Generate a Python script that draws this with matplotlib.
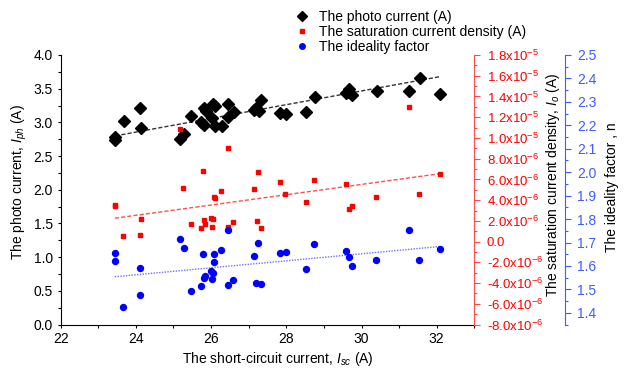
import numpy as np
import matplotlib
matplotlib.use('Agg')
import matplotlib.pyplot as plt
from matplotlib.lines import Line2D
from matplotlib.ticker import MultipleLocator, FixedLocator, FuncFormatter

plt.rcParams['font.family'] = ['Liberation Sans', 'DejaVu Sans']
plt.rcParams['mathtext.fontset'] = 'custom'
plt.rcParams['mathtext.rm'] = 'Liberation Sans'
plt.rcParams['mathtext.it'] = 'Liberation Sans:italic'

# photo current I_ph (A) vs short-circuit current I_sc (A)
isc_ph = [23.45, 23.45, 23.68, 24.12, 24.14, 25.18, 25.28, 25.47, 25.74, 25.80,
          25.81, 25.86, 26.05, 26.10, 26.03, 26.10, 26.30, 26.46, 26.46, 26.61,
          27.13, 27.20, 27.27, 27.33, 27.84, 27.99, 28.53, 28.75, 29.60, 29.68,
          29.65, 29.76, 30.40, 31.26, 31.55, 32.10]
iph = [2.74, 2.78, 3.02, 3.22, 2.91, 2.76, 2.83, 3.10, 3.01, 2.96,
       3.21, 3.17, 3.27, 3.25, 3.06, 2.94, 2.94, 3.28, 3.08, 3.16,
       3.18, 3.22, 3.17, 3.33, 3.14, 3.13, 3.16, 3.38, 3.43, 3.49,
       3.45, 3.40, 3.46, 3.47, 3.66, 3.42]
iph_fit_x = [23.45, 32.10]
iph_fit_y = [2.80, 3.68]

# saturation current density I_o, in units of 1e-6 A
isc_io = [23.44, 23.44, 23.67, 24.11, 24.13, 25.16, 25.26, 25.46, 25.73, 25.78,
          25.81, 25.85, 26.00, 26.03, 26.06, 26.09, 26.10, 26.27, 26.44, 26.45,
          26.59, 27.13, 27.21, 27.26, 27.32, 27.83, 27.97, 28.52, 28.74, 29.58,
          29.67, 29.75, 30.39, 31.25, 31.54, 32.08]
io_e6 = [3.55, 3.39, 0.52, 0.65, 2.17, 10.87, 5.22, 1.68, 1.33, 6.77,
         2.07, 1.71, 2.32, 1.42, 2.23, 4.32, 4.20, 4.90, 9.03, 1.42,
         1.88, 5.10, 1.97, 6.72, 1.30, 5.71, 4.58, 3.81, 5.97, 5.55,
         3.19, 3.48, 4.35, 12.95, 4.58, 6.52]
io_fit_x = [23.44, 32.08]
io_fit_e6 = [2.26, 6.55]

# ideality factor n
isc_n = [23.44, 23.45, 23.67, 24.11, 24.12, 25.16, 25.27, 25.46, 25.73, 25.78,
         25.81, 25.85, 26.00, 26.03, 26.06, 26.09, 26.09, 26.27, 26.44, 26.45,
         26.59, 27.13, 27.20, 27.26, 27.32, 27.83, 27.98, 28.52, 28.73, 29.58,
         29.68, 29.75, 30.39, 31.25, 31.54, 32.08]
n_ideal = [1.657, 1.623, 1.425, 1.475, 1.593, 1.714, 1.678, 1.493, 1.513, 1.650,
           1.550, 1.556, 1.579, 1.546, 1.569, 1.650, 1.616, 1.668, 1.754, 1.519,
           1.539, 1.642, 1.529, 1.698, 1.523, 1.654, 1.660, 1.589, 1.695, 1.664,
           1.640, 1.599, 1.624, 1.753, 1.626, 1.673]
n_fit_x = [23.44, 32.08]
n_fit_y = [1.554, 1.683]

red_ticks_e6 = [-8, -6, -4, -2, 0, 2, 4, 6, 8, 10, 12, 14, 16, 18]
blue_ticks = [1.4, 1.5, 1.6, 1.7, 1.8, 1.9, 2.0, 2.1, 2.2, 2.3, 2.4, 2.5]

RED = '#ff0000'
RED_AX = '#ff4a4a'
BLUE = '#0000ff'
BLUE_AX = '#3f5cff'
fs = 10

fig = plt.figure(figsize=(6.25, 3.71), dpi=100)
ax = fig.add_axes([0.0971, 0.1251, 0.6618, 0.7267])
ax2 = ax.twinx()
ax3 = ax.twinx()

# linear trend lines and points
ax.plot(iph_fit_x, iph_fit_y, color='#333333', lw=1, ls=(0, (3, 1.5)), zorder=2)
ax.plot(isc_ph, iph, ls='none', marker='D', ms=6.5, color='black', zorder=3)

ax2.plot(io_fit_x, np.array(io_fit_e6) * 1e-6, color='#ff5050', lw=1, ls=(0, (3, 1.5)), zorder=2)
ax2.plot(isc_io, np.array(io_e6) * 1e-6, ls='none', marker='s', ms=3.2, color=RED, zorder=3)

ax3.plot(n_fit_x, n_fit_y, color='#6f6fff', lw=1, ls=(0, (1, 1)), zorder=2)
ax3.plot(isc_n, n_ideal, ls='none', marker='o', ms=4.3, color=BLUE, zorder=3)

# main axes
ax.set_xlim(22, 33)
ax.set_ylim(0, 4.0)
ax.xaxis.set_major_locator(FixedLocator([22, 24, 26, 28, 30, 32]))
ax.xaxis.set_minor_locator(MultipleLocator(1))
ax.yaxis.set_major_locator(MultipleLocator(0.5))
ax.yaxis.set_minor_locator(MultipleLocator(0.25))
ax.yaxis.set_major_formatter(FuncFormatter(lambda v, p: f'{v:.1f}'))
ax.spines['top'].set_visible(False)
ax.spines['right'].set_visible(False)
ax.tick_params(which='both', direction='out', length=2.5, width=0.8, labelsize=fs, pad=3)
ax.set_xlabel('The short-circuit current, $I_{sc}$ (A)', fontsize=fs)
ax.set_ylabel('The photo current, $I_{ph}$ (A)', fontsize=fs)
ax.xaxis.set_label_coords(0.525, -0.128)
ax.xaxis.label.set_va('center')
ax.yaxis.set_label_coords(-0.1, 0.53)
ax.yaxis.label.set_va('center')

# saturation current axis
ax2.set_ylim(-8e-6, 18e-6)
ax2.yaxis.set_major_locator(FixedLocator([v * 1e-6 for v in red_ticks_e6]))
ax2.yaxis.set_minor_locator(MultipleLocator(1e-6))

def red_fmt(v, pos):
    if abs(v) < 1e-12:
        return '0.0'
    e = int(np.floor(np.log10(abs(v)) + 1e-9))
    m = v / 10.0 ** e
    return f'{m:.1f}x10$^{{{e}}}$'

ax2.yaxis.set_major_formatter(FuncFormatter(red_fmt))
for s in ['top', 'left', 'bottom']:
    ax2.spines[s].set_visible(False)
ax2.spines['right'].set_color(RED_AX)
ax2.tick_params(axis='y', which='major', direction='out', length=4, width=0.8,
                colors=RED_AX, labelcolor=RED, labelsize=9.5, pad=5)
ax2.tick_params(axis='y', which='minor', direction='out', length=2.5, width=0.8, colors=RED_AX)
ax2.set_ylabel('The saturation current density, $I_o$ (A)', fontsize=fs)
ax2.yaxis.set_label_coords(1.191, 0.518)
ax2.yaxis.label.set_va('center')

# ideality factor axis
ax3.spines['right'].set_position(('axes', 1.2185))
ax3.set_ylim(1.35, 2.5)
ax3.yaxis.set_major_locator(FixedLocator(blue_ticks))
ax3.yaxis.set_minor_locator(MultipleLocator(0.05))
ax3.yaxis.set_major_formatter(FuncFormatter(lambda v, p: f'{v:.1f}'))
for s in ['top', 'left', 'bottom']:
    ax3.spines[s].set_visible(False)
ax3.spines['right'].set_color(BLUE_AX)
ax3.tick_params(axis='y', which='major', direction='out', length=4, width=0.8,
                colors=BLUE_AX, labelcolor=BLUE_AX, labelsize=fs, pad=5)
ax3.tick_params(axis='y', which='minor', direction='out', length=2.5, width=0.8, colors=BLUE_AX)
ax3.set_ylabel('The ideality factor , n', fontsize=fs)
ax3.yaxis.set_label_coords(1.333, 0.51)
ax3.yaxis.label.set_va('center')

handles = [
    Line2D([0], [0], ls='none', marker='D', ms=5, color='black'),
    Line2D([0], [0], ls='none', marker='s', ms=3, color=RED),
    Line2D([0], [0], ls='none', marker='o', ms=4, color=BLUE),
]
labels = ['The photo current (A)', 'The saturation current density (A)', 'The ideality factor']
fig.legend(handles, labels, loc='upper left', bbox_to_anchor=(0.4715, 0.973),
           frameon=False, fontsize=fs, handlelength=1.0, handletextpad=0.77,
           borderpad=0, borderaxespad=0, labelspacing=0.08)

fig.savefig('out.png', dpi=100)
